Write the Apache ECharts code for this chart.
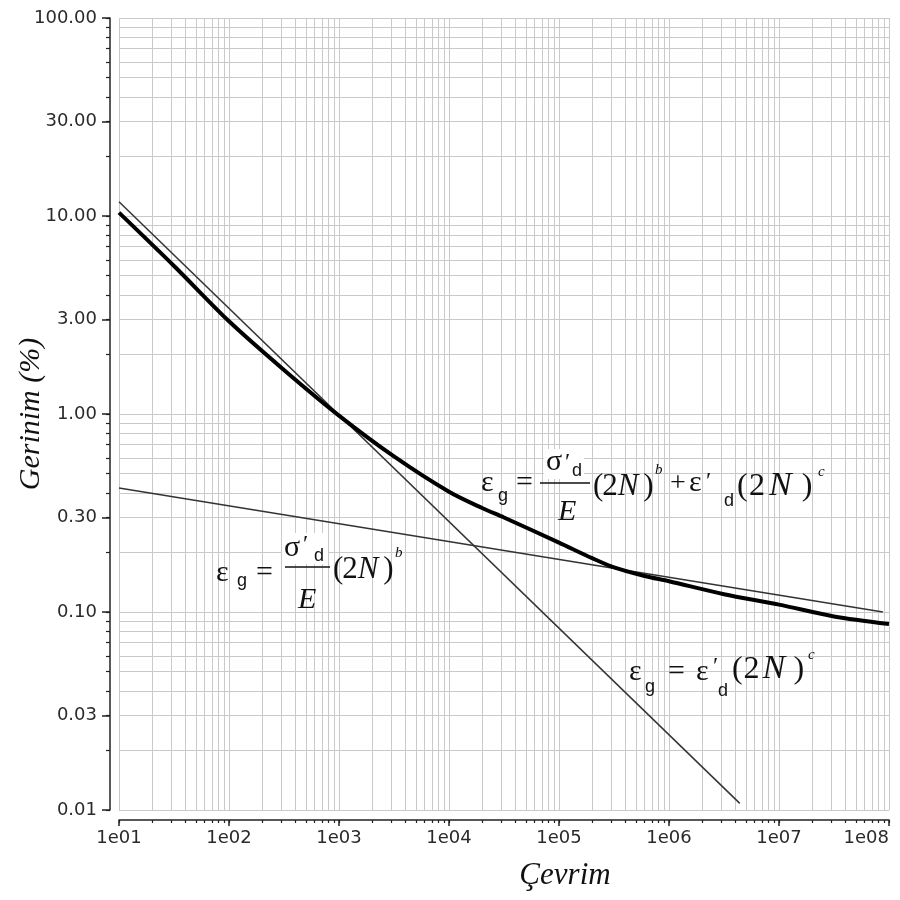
<!DOCTYPE html>
<html>
<head>
<meta charset="utf-8">
<script src="https://cdn.jsdelivr.net/npm/echarts@6/dist/echarts.min.js"></script>
<style>html,body{margin:0;padding:0;background:#fff}#c{width:900px;height:900px}</style>
</head>
<body>
<div id="c"></div>
<script>
// ---- data ----
const cyclesTotal = [10, 32, 100, 316, 1000, 3160, 10000, 20000, 31600, 100000, 200000, 316000, 600000, 1e6, 3.16e6, 1e7, 3.16e7, 1e8];
const strainTotal = [10.4, 5.56, 2.94, 1.67, 0.982, 0.611, 0.405, 0.335, 0.300, 0.224, 0.187, 0.168, 0.152, 0.143, 0.123, 0.109, 0.095, 0.087];
const cyclesElastic = [10, 8.8e7];
const strainElastic = [0.423, 0.100];
const cyclesPlastic = [10, 4.4e6];
const strainPlastic = [11.8, 0.0108];
const xMajorTicks = [10, 100, 1000, 1e4, 1e5, 1e6, 1e7, 1e8];
const yMajorTicks = [0.01, 0.03, 0.1, 0.3, 1, 3, 10, 30, 100];
const minorMultipliers = [1, 2, 3, 4, 5, 6, 7, 8, 9];

function decadeTicks(lo, hi) {
  const out = [];
  for (let e = lo; e < hi; e++) {
    minorMultipliers.forEach(m => out.push(+(m * Math.pow(10, e)).toPrecision(6)));
  }
  out.push(Math.pow(10, hi));
  return out;
}
const xAllTicks = decadeTicks(1, 8);
const yAllTicks = decadeTicks(-2, 2);

const zip = (a, b) => a.map((v, i) => [v, b[i]]);

const chart = echarts.init(document.getElementById('c'));
const gridColor = '#c9c9c9';
const axisColor = '#222';
const labelFont = {fontFamily: 'DejaVu Sans', fontSize: 18, color: '#2a2a2a'};

const SERIF = 'Liberation Serif';
const SANS = 'Liberation Sans';
const gfx = [];
function txt(t, x, base, size, fam, italic) {
  gfx.push({
    type: 'text', x: x, y: base - 0.32 * size, z: 100,
    style: {text: t, font: (italic ? 'italic ' : '') + size + 'px "' + fam + '"', fill: '#111', align: 'left', verticalAlign: 'middle'}
  });
}
// "(2N)" spread over width w starting at x
function paren2N(x, base, size, w, nSize) {
  txt('(', x, base, size, SERIF);
  txt('2', x + 0.15 * w, base, size, SERIF);
  txt('N', x + 0.40 * w, base, nSize || size, SERIF, true);
  txt(')', x + 0.81 * w, base, size, SERIF);
}
function fracLine(x1, x2, y) {
  gfx.push({type: 'line', z: 100, shape: {x1: x1, y1: y, x2: x2, y2: y}, style: {stroke: '#111', lineWidth: 1.5}});
}
function whiteBox(x, y, w, h) {
  gfx.push({type: 'rect', z: 99, shape: {x: x, y: y, width: w, height: h}, style: {fill: '#fff'}});
}

// Formula 1 (total)
whiteBox(544, 449, 40, 30);
txt('ε', 481, 493, 30, SERIF);
txt('g', 498, 502, 18, SANS);
txt('=', 516, 493, 30, SERIF);
txt('σ', 546, 472, 30, SERIF);
txt('′', 565, 470, 24, SERIF);
txt('d', 572, 477, 18, SANS);
fracLine(540, 590, 483);
txt('E', 558, 522, 30, SERIF, true);
paren2N(593, 497, 31, 62);
txt('b', 655, 475, 15, SERIF, true);
txt('+', 670, 493, 28, SERIF);
txt('ε', 689, 493, 30, SERIF);
txt('′', 706, 489, 24, SERIF);
txt('d', 724, 507, 18, SANS);
paren2N(737, 497, 32, 80, 34);
txt('c', 818, 477, 15, SERIF, true);

// Formula 2 (elastic)
whiteBox(282, 533, 46, 31);
txt('ε', 216, 583, 30, SERIF);
txt('g', 237, 587, 18, SANS);
txt('=', 256, 583, 30, SERIF);
txt('σ', 284, 558, 30, SERIF);
txt('′', 303, 552, 24, SERIF);
txt('d', 314, 562, 18, SANS);
fracLine(285, 330, 567);
txt('E', 298, 610, 30, SERIF, true);
paren2N(333, 580, 31, 62);
txt('b', 395, 558, 15, SERIF, true);

// Formula 3 (plastic)
txt('ε', 629, 682, 30, SERIF);
txt('g', 645, 693, 18, SANS);
txt('=', 668, 682, 30, SERIF);
txt('ε', 696, 682, 30, SERIF);
txt('′', 713, 674, 24, SERIF);
txt('d', 718, 697, 18, SANS);
paren2N(732, 680, 32, 76, 34);
txt('c', 808, 660, 15, SERIF, true);

const option = {
  animation: false,
  backgroundColor: '#fff',
  grid: {left: 119, right: 11, top: 18, bottom: 90, containLabel: false, outerBoundsMode: 'none'},
  xAxis: [
    {
      type: 'log', logBase: 10, min: 10, max: 1e8, position: 'bottom', offset: 10,
      name: 'Çevrim', nameLocation: 'middle', nameGap: 40,
      nameTextStyle: {fontFamily: SERIF, fontStyle: 'italic', fontSize: 31, color: '#111', padding: [0, 0, 0, 122]},
      axisLine: {show: true, lineStyle: {color: axisColor, width: 1.5}},
      axisTick: {show: true, length: 3, customValues: xAllTicks, lineStyle: {color: axisColor, width: 1.2}},
      minorTick: {show: false},
      axisLabel: {
        show: true, margin: 9, customValues: xMajorTicks, ...labelFont, alignMaxLabel: 'right',
        formatter: v => '1e' + String(Math.round(Math.log10(v))).padStart(2, '0')
      },
      splitLine: {show: true, lineStyle: {color: gridColor, width: 1}}
    },
    {
      type: 'log', logBase: 10, min: 10, max: 1e8, position: 'bottom', offset: 10,
      axisLine: {show: false},
      axisTick: {show: true, length: 6, customValues: xMajorTicks, lineStyle: {color: axisColor, width: 1.5}},
      axisLabel: {show: false},
      splitLine: {show: false}
    }
  ],
  yAxis: [
    {
      type: 'log', logBase: 10, min: 0.01, max: 100, position: 'left', offset: 9,
      name: 'Gerinim (%)', nameLocation: 'middle', nameGap: 64, nameRotate: 90, nameMoveOverlap: false,
      nameTextStyle: {fontFamily: SERIF, fontStyle: 'italic', fontSize: 30, color: '#111'},
      axisLine: {show: true, lineStyle: {color: axisColor, width: 1.5}},
      axisTick: {show: true, length: 4, customValues: yAllTicks, lineStyle: {color: axisColor, width: 1.2}},
      axisLabel: {show: true, margin: 13, customValues: yMajorTicks, ...labelFont, formatter: v => Number(v).toFixed(2)},
      splitLine: {show: true, lineStyle: {color: gridColor, width: 1}}
    },
    {
      type: 'log', logBase: 10, min: 0.01, max: 100, position: 'left', offset: 9,
      axisLine: {show: false},
      axisTick: {show: true, length: 8, customValues: yMajorTicks, lineStyle: {color: axisColor, width: 1.5}},
      axisLabel: {show: false},
      splitLine: {show: false}
    }
  ],
  series: [
    {
      name: 'elastic', type: 'line', data: zip(cyclesElastic, strainElastic), symbol: 'none',
      lineStyle: {color: '#333', width: 1.5}, z: 3
    },
    {
      name: 'plastic', type: 'line', data: zip(cyclesPlastic, strainPlastic), symbol: 'none',
      lineStyle: {color: '#333', width: 1.5}, z: 3
    },
    {
      name: 'total', type: 'line', data: zip(cyclesTotal, strainTotal), symbol: 'none', smooth: 0.3,
      lineStyle: {color: '#000', width: 4}, z: 4
    }
  ],
  graphic: gfx
};
chart.setOption(option);
</script>
</body>
</html>
